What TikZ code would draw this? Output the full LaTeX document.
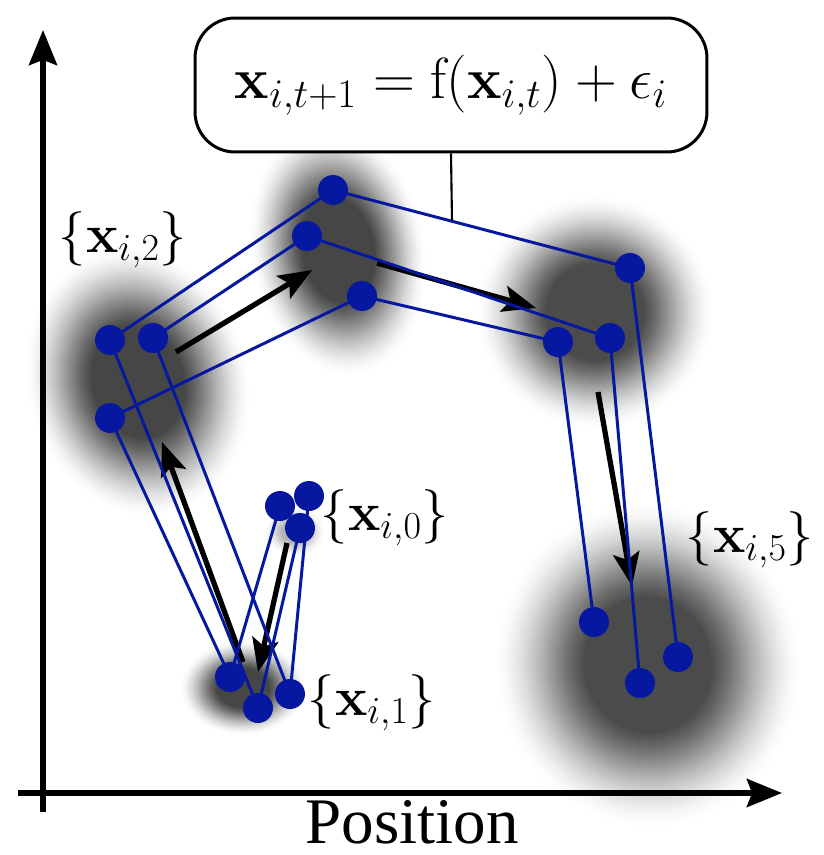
\RequirePackage{fix-cm}
\documentclass[tikz,border=0pt]{standalone}
\usepackage{amsmath,amssymb}
\usepackage[no-math]{fontspec}
\usepackage{tikz}
\usetikzlibrary{arrows.meta}
\newfontfamily\axisfont{Liberation Serif}
\definecolor{sample}{HTML}{0718A0}

% soft cloud: centre, x radius, y radius, angle, darkness of the core
\newcommand{\cloud}[5]{%
  \foreach \k in {1,...,40}{%
    \pgfmathsetmacro\s{1-0.6*(\k-1)/40}
    \pgfmathsetmacro\o{-2*ln(1-#5)/1640*\k}
    \fill[black, opacity=\o, rotate around={#4:#1}] #1 ellipse [x radius=\s*#2, y radius=\s*#3];
  }%
}

\tikzset{
  dot/.style={circle, fill=sample, minimum size=0.6cm, inner sep=0pt},
  trajline/.style={draw=sample, line width=1.7pt},
  drift/.style={line width=3pt, -{Stealth[length=19pt,width=15pt,inset=4pt]}},
  setlabel/.style={font=\fontsize{31}{36}\selectfont}
}

\begin{document}
\begin{tikzpicture}[x=0.02cm, y=-0.02cm]
  \useasboundingbox (0,0) rectangle (824,855);

  % particle positions, three trajectories a, b, c over t = 0..5
  \coordinate (a0) at (280,506); \coordinate (b0) at (300,528); \coordinate (c0) at (309,496);
  \coordinate (a1) at (230,677); \coordinate (b1) at (258,708); \coordinate (c1) at (290,694);
  \coordinate (a2) at (110,418); \coordinate (b2) at (110,340); \coordinate (c2) at (153,338);
  \coordinate (a3) at (362,296); \coordinate (b3) at (333,190); \coordinate (c3) at (307,236);
  \coordinate (a4) at (558,342); \coordinate (b4) at (630,268); \coordinate (c4) at (610,338);
  \coordinate (a5) at (594,622); \coordinate (b5) at (678,657); \coordinate (c5) at (640,683);

  % blurred clouds
  \cloud{(295,532)}{32}{26}{0}{0.3}
  \cloud{(243,688)}{64}{48}{0}{0.72}
  \cloud{(138,382)}{112}{138}{15}{0.72}
  \cloud{(338,250)}{88}{128}{10}{0.72}
  \cloud{(595,312)}{120}{118}{0}{0.7}
  \cloud{(648,665)}{155}{165}{10}{0.7}

  % axes
  \coordinate (o1) at (43,812); \coordinate (top) at (43,30);
  \coordinate (o2) at (18,793); \coordinate (right) at (782,793);
  \draw[line width=3pt, -{Stealth[length=20pt,width=16pt,inset=3pt]}] (o1) -- (top);
  \draw[line width=3pt, -{Stealth[length=20pt,width=16pt,inset=3pt]}] (o2) -- (right);
  \node[font=\axisfont\fontsize{37}{40}\selectfont] (xlabel) at (412,822) {Position};

  % mean drift
  \coordinate (s1) at (287,543); \coordinate (e1) at (258,672);
  \coordinate (s2) at (243,662); \coordinate (e2) at (162,442);
  \coordinate (s3) at (176,352); \coordinate (e3) at (312,270);
  \coordinate (s4) at (377,263); \coordinate (e4) at (536,308);
  \coordinate (s5) at (598,392); \coordinate (e5) at (632,586);
  \foreach \k in {1,...,5}
    \draw[drift] (s\k) -- (e\k);

  % trajectories
  \foreach \p in {a,b,c}
    \draw[trajline] (\p0) -- (\p1) -- (\p2) -- (\p3) -- (\p4) -- (\p5);
  \foreach \p in {c,a,b}
    \foreach \t in {0,...,5}
      \node[dot] (\p\t dot) at (\p\t) {};

  % labels
  \node[setlabel] (set2) at (123,240) {$\{\mathbf{x}_{i,2}\}$};
  \node[setlabel] (set0) at (385,518) {$\{\mathbf{x}_{i,0}\}$};
  \node[setlabel] (set1) at (372,703) {$\{\mathbf{x}_{i,1}\}$};
  \node[setlabel] (set5) at (750,540) {$\{\mathbf{x}_{i,5}\}$};

  % transition model
  \node[draw, line width=1.7pt, rounded corners=0.8cm, fill=white, minimum width=10.24cm, minimum height=2.68cm, font=\fontsize{33}{38}\selectfont] (law) at (451,85)
    {$\mathbf{x}_{i,t+1} = \mathrm{f}(\mathbf{x}_{i,t}) + \epsilon_i$};
  \coordinate (pin) at (452,221);
  \draw[line width=1.2pt] (law.south) -- (pin);
\end{tikzpicture}
\end{document}
